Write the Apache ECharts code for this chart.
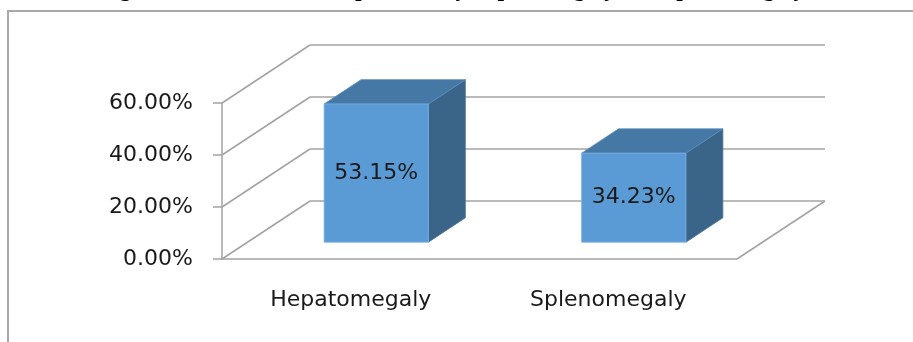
<!DOCTYPE html>
<html>
<head>
<meta charset="utf-8">
<script src="https://cdn.jsdelivr.net/npm/echarts@6/dist/echarts.min.js"></script>
<style>
  html, body { margin: 0; padding: 0; background: #fff; }
  #chart { width: 913px; height: 342px; }
</style>
</head>
<body>
<div id="chart"></div>
<script>
// ---- data ----
const categories = ['Hepatomegaly', 'Splenomegaly'];
const percentages = [0.5315, 0.3423];
const yTicks = [0, 0.2, 0.4, 0.6];
const caption = 'Figure 2: Distribution of patients by hepatomegaly and splenomegaly';

// ---- 3D look: oblique projection of the depth axis (pixels for the full floor depth) ----
const DEPTH_X = 88, DEPTH_Y = -58;
const BAR_FRONT = 0.29, BAR_BACK = 0.71;   // depth span of each column, as a fraction of the floor
const BAR_WIDTH = 0.405;                   // column width as a fraction of the category band

const WALL_COLOR = '#a3a3a3';
const FACE_FRONT = '#5b9bd5';
const FACE_TOP = '#4678a6';
const FACE_SIDE = '#3b6489';
const TEXT_COLOR = '#1a1a1a';
const FONT = '"DejaVu Sans", "Noto Sans", sans-serif';
const FONT_SIZE = 22;

const fmtPct = v => (v * 100).toFixed(2) + '%';

const chart = echarts.init(document.getElementById('chart'), null, { renderer: 'canvas' });

// side wall, back wall gridlines and floor edges, one group per tick value
function renderWalls(params, api) {
  const cs = params.coordSys;
  const v = api.value(1);
  const y = api.coord([0, v])[1];
  const x0 = cs.x, x1 = cs.x + cs.width;
  const style = { stroke: WALL_COLOR, lineWidth: 1.5, fill: null };
  const children = [
    { type: 'line', shape: { x1: x0, y1: y, x2: x0 + DEPTH_X, y2: y + DEPTH_Y }, style },
    { type: 'line', shape: { x1: x0 + DEPTH_X, y1: y + DEPTH_Y, x2: x1 + DEPTH_X, y2: y + DEPTH_Y }, style }
  ];
  if (v === 0) {
    children.push({ type: 'line', shape: { x1: x1, y1: y, x2: x1 + DEPTH_X, y2: y + DEPTH_Y }, style });
  }
  return { type: 'group', children };
}

// a box column: front, top and right faces plus its value label
function renderColumn(params, api) {
  const idx = api.value(0), val = api.value(1);
  const base = api.coord([idx, 0]);
  const top = api.coord([idx, val]);
  const w = api.size([1, 0])[0] * BAR_WIDTH;
  const fx = DEPTH_X * BAR_FRONT, fy = DEPTH_Y * BAR_FRONT;
  const bx = DEPTH_X * BAR_BACK, by = DEPTH_Y * BAR_BACK;
  const xl = base[0] - w / 2, xr = base[0] + w / 2;
  const yb = base[1], yt = top[1];
  return {
    type: 'group',
    children: [
      {
        type: 'polygon',
        shape: { points: [[xr + fx, yt + fy], [xr + bx, yt + by], [xr + bx, yb + by], [xr + fx, yb + fy]] },
        style: { fill: FACE_SIDE, stroke: '#4a77a0', lineWidth: 0.8 }
      },
      {
        type: 'polygon',
        shape: { points: [[xl + fx, yt + fy], [xr + fx, yt + fy], [xr + bx, yt + by], [xl + bx, yt + by]] },
        style: { fill: FACE_TOP, stroke: '#5a8dbd', lineWidth: 0.8 }
      },
      {
        type: 'rect',
        shape: { x: xl + fx, y: yt + fy, width: w, height: yb - yt },
        style: { fill: FACE_FRONT, stroke: '#79aee0', lineWidth: 0.8 }
      },
      {
        type: 'text',
        x: base[0] + fx,
        y: (yt + yb) / 2 + fy,
        style: {
          text: fmtPct(val),
          fill: TEXT_COLOR,
          fontSize: FONT_SIZE,
          fontFamily: FONT,
          align: 'center',
          verticalAlign: 'middle'
        }
      }
    ]
  };
}

chart.setOption({
  animation: false,
  backgroundColor: '#ffffff',
  grid: { left: 222, right: 176, top: 103, bottom: 83 },
  xAxis: {
    type: 'category',
    data: categories,
    axisLine: { lineStyle: { color: WALL_COLOR, width: 1.5 } },
    axisTick: { length: 9, lineStyle: { color: WALL_COLOR, width: 1.5 } },
    axisLabel: { margin: 30, color: TEXT_COLOR, fontSize: FONT_SIZE, fontFamily: FONT },
    splitLine: { show: false }
  },
  yAxis: {
    type: 'value',
    min: 0,
    max: 0.6,
    interval: 0.2,
    axisLine: { show: true, lineStyle: { color: WALL_COLOR, width: 1.5 } },
    axisTick: { show: true, length: 9, lineStyle: { color: WALL_COLOR, width: 1.5 } },
    axisLabel: { margin: 29, color: TEXT_COLOR, fontSize: FONT_SIZE, fontFamily: FONT, formatter: fmtPct },
    splitLine: { show: false }
  },
  graphic: [
    {
      type: 'polyline',
      shape: { points: [[8, 342], [8, 11], [913, 11]] },
      style: { stroke: '#a8a8a8', lineWidth: 2, fill: null },
      silent: true
    },
    {
      type: 'text',
      x: 98,
      y: 2,
      style: {
        text: caption,
        font: 'bold 24px "Liberation Serif", serif',
        fill: '#000',
        verticalAlign: 'bottom'
      },
      silent: true
    }
  ],
  series: [
    {
      type: 'custom',
      name: 'walls',
      renderItem: renderWalls,
      data: yTicks.map(v => [0, v]),
      encode: { x: 0, y: 1 },
      silent: true,
      z: 1
    },
    {
      type: 'custom',
      name: 'Percentage',
      renderItem: renderColumn,
      data: percentages.map((v, i) => [i, v]),
      encode: { x: 0, y: 1 },
      z: 3
    }
  ]
});
</script>
</body>
</html>
